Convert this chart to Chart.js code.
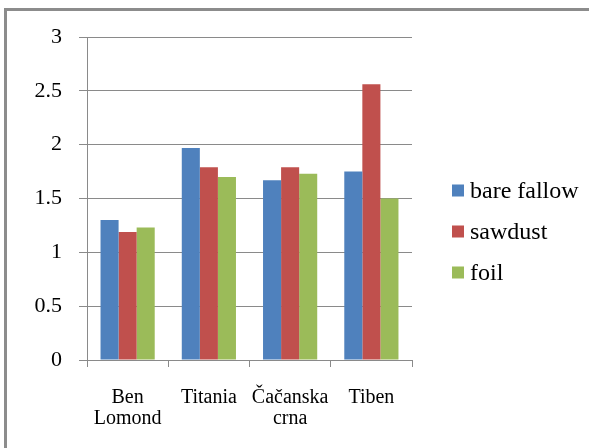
<!DOCTYPE html>
<html>
<head>
<meta charset="utf-8">
<script src="https://cdn.jsdelivr.net/npm/chart.js@4.4.1/dist/chart.umd.min.js"></script>
<style>
  html, body { margin: 0; padding: 0; background: #ffffff; }
  #wrap { position: relative; width: 589px; height: 448px; overflow: hidden; }
  #frame {
    position: absolute; left: 4px; top: 8px; width: 700px; height: 600px;
    border-left: 3px solid #8c8c8c; border-top: 3px solid #8c8c8c;
    pointer-events: none;
  }
  canvas { position: absolute; left: 0; top: 0; }
</style>
</head>
<body>
<div id="wrap">
  <canvas id="chart" width="589" height="448"></canvas>
  <div id="frame"></div>
</div>
<script>
// Varieties along the category axis
const categories = [["Ben", "Lomond"], "Titania", ["Čačanska", "crna"], "Tiben"];

// Values per mulch treatment
const bareFallow = [1.30, 1.97, 1.67, 1.75];
const sawdust    = [1.19, 1.79, 1.79, 2.56];
const foil       = [1.23, 1.70, 1.73, 1.50];

const seriesNames = ["bare fallow", "sawdust", "foil"];
const seriesColors = ["#4F81BD", "#C0504D", "#9BBB59"];
const yTicks = [0, 0.5, 1, 1.5, 2, 2.5, 3];

const serif = "'Liberation Serif', 'Times New Roman', serif";
const gridGray = "#8a8a8a";

// Legend drawn to the right of the plot area, one row per dataset
const sideLegend = {
  id: "sideLegend",
  afterDraw(chart) {
    const { ctx, chartArea } = chart;
    const boxSize = 12;
    const rowGap = 41;
    const x = chartArea.right + 40;
    const midY = (chartArea.top + chartArea.bottom) / 2 + 33;
    const n = chart.data.datasets.length;
    ctx.save();
    ctx.font = "24px " + serif;
    ctx.textBaseline = "middle";
    ctx.textAlign = "left";
    chart.data.datasets.forEach((ds, i) => {
      const cy = midY + (i - (n - 1) / 2) * rowGap;
      ctx.fillStyle = ds.backgroundColor;
      ctx.fillRect(x, cy - boxSize / 2, boxSize, boxSize);
      ctx.fillStyle = "#000000";
      ctx.fillText(ds.label, x + boxSize + 6, cy + 1);
    });
    ctx.restore();
  }
};

new Chart(document.getElementById("chart"), {
  type: "bar",
  data: {
    labels: categories,
    datasets: [
      { label: seriesNames[0], data: bareFallow, backgroundColor: seriesColors[0] },
      { label: seriesNames[1], data: sawdust,    backgroundColor: seriesColors[1] },
      { label: seriesNames[2], data: foil,       backgroundColor: seriesColors[2] }
    ]
  },
  plugins: [sideLegend],
  options: {
    responsive: false,
    animation: false,
    devicePixelRatio: 1,
    layout: { padding: { top: 37, right: 177, bottom: 0, left: 0 } },
    datasets: {
      bar: { categoryPercentage: 0.667, barPercentage: 1.0, borderWidth: 0 }
    },
    plugins: {
      tooltip: { enabled: false },
      legend: { display: false }
    },
    scales: {
      x: {
        position: "bottom",
        grid: {
          display: true, drawOnChartArea: false, offset: true,
          color: gridGray, tickLength: 7, tickColor: gridGray
        },
        border: { display: true, color: gridGray, width: 1 },
        ticks: {
          color: "#000000",
          font: { family: serif, size: 20, lineHeight: 1.05 },
          padding: 20,
          maxRotation: 0,
          autoSkip: false
        },
        afterFit: (s) => { s.height = 88; }
      },
      y: {
        position: "left",
        min: 0,
        max: 3,
        afterBuildTicks: (s) => { s.ticks = yTicks.map(v => ({ value: v })); },
        grid: { color: gridGray, tickLength: 8, tickColor: gridGray },
        border: { display: true, color: gridGray, width: 1 },
        ticks: {
          color: "#000000",
          font: { family: serif, size: 22 },
          padding: 17,
          callback: (v) => String(v)
        },
        afterFit: (s) => { s.width = 87; }
      }
    }
  }
});
</script>
</body>
</html>
